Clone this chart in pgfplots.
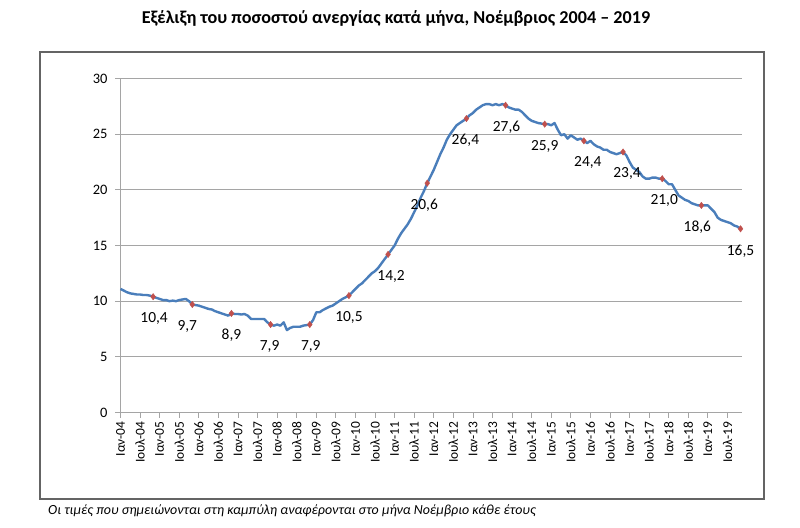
\documentclass[border=0pt]{standalone}
\usepackage{fontspec}
\setmainfont{Carlito}
\usepackage{pgfplots}
\pgfplotsset{compat=1.18}
\usepackage{pgfplotstable}
\definecolor{lineblue}{RGB}{74,126,187}
\definecolor{mred}{RGB}{192,80,77}
\definecolor{gridgray}{RGB}{165,165,165}
\definecolor{framegray}{RGB}{100,100,100}

\pgfplotstableread{
m y
0 11.1
1 10.95
2 10.8
3 10.7
4 10.65
5 10.6
6 10.6
7 10.55
8 10.55
9 10.5
10 10.4
11 10.3
12 10.2
13 10.1
14 10.1
15 10.0
16 10.05
17 10.0
18 10.1
19 10.15
20 10.2
21 10.0
22 9.7
23 9.65
24 9.6
25 9.5
26 9.4
27 9.3
28 9.25
29 9.1
30 9.0
31 8.9
32 8.8
33 8.7
34 8.9
35 8.85
36 8.85
37 8.8
38 8.85
39 8.7
40 8.4
41 8.4
42 8.4
43 8.4
44 8.4
45 8.1
46 7.9
47 7.8
48 7.9
49 7.8
50 8.1
51 7.4
52 7.6
53 7.7
54 7.7
55 7.7
56 7.8
57 7.85
58 7.9
59 8.3
60 9.0
61 9.0
62 9.2
63 9.35
64 9.5
65 9.6
66 9.8
67 10.0
68 10.2
69 10.35
70 10.5
71 10.8
72 11.1
73 11.4
74 11.6
75 11.9
76 12.2
77 12.5
78 12.7
79 13.0
80 13.4
81 13.8
82 14.2
83 14.6
84 15.0
85 15.6
86 16.1
87 16.5
88 16.9
89 17.4
90 18.0
91 18.6
92 19.3
93 19.9
94 20.6
95 21.2
96 21.8
97 22.5
98 23.2
99 23.8
100 24.5
101 25.0
102 25.4
103 25.8
104 26.0
105 26.2
106 26.4
107 26.7
108 26.9
109 27.2
110 27.4
111 27.6
112 27.7
113 27.7
114 27.6
115 27.7
116 27.6
117 27.7
118 27.6
119 27.4
120 27.3
121 27.2
122 27.2
123 27.0
124 26.7
125 26.4
126 26.2
127 26.1
128 26.0
129 25.95
130 25.9
131 25.9
132 25.8
133 26.0
134 25.4
135 24.9
136 25.0
137 24.6
138 24.9
139 24.7
140 24.5
141 24.6
142 24.4
143 24.2
144 24.4
145 24.1
146 23.9
147 23.8
148 23.6
149 23.6
150 23.4
151 23.3
152 23.2
153 23.3
154 23.4
155 23.1
156 22.5
157 22.0
158 21.8
159 21.6
160 21.2
161 21.0
162 21.0
163 21.1
164 21.1
165 21.0
166 21.0
167 20.8
168 20.5
169 20.5
170 20.0
171 19.5
172 19.3
173 19.1
174 19.0
175 18.8
176 18.7
177 18.6
178 18.6
179 18.6
180 18.6
181 18.3
182 18.0
183 17.5
184 17.3
185 17.2
186 17.1
187 17.0
188 16.8
189 16.7
190 16.5
}\ratedata

\pgfplotstableread{
m y lbl dx
10 10.4 10,4 1
22 9.7 9,7 -5
34 8.9 8,9 0
46 7.9 7,9 -1
58 7.9 7,9 1
70 10.5 10,5 0
82 14.2 14,2 3
94 20.6 20,6 -3
106 26.4 26,4 -1
118 27.6 27,6 1
130 25.9 25,9 0
142 24.4 24,4 4
154 23.4 23,4 4
166 21.0 21,0 2
178 18.6 18,6 -4
190 16.5 16,5 0
}\novdata

\begin{document}
\begin{tikzpicture}
\path[use as bounding box] (0,0) rectangle (800bp,528bp);
\draw[framegray, line width=1.6bp] (40bp,29bp) rectangle (764bp,476bp);
\node[font=\fontsize{18.2}{20}\selectfont\bfseries] at (396bp,510bp)
  {Εξέλιξη του ποσοστού ανεργίας κατά μήνα, Νοέμβριος 2004 – 2019};
\node[font=\fontsize{14}{16}\selectfont\itshape, anchor=west, inner sep=0pt] at (48bp,17bp)
  {Οι τιμές που σημειώνονται στη καμπύλη αναφέρονται στο μήνα Νοέμβριο κάθε έτους};
\begin{axis}[
  at={(120.5bp,115.5bp)}, anchor=south west,
  scale only axis, width=621bp, height=334bp,
  xmin=0, xmax=190.3, ymin=0, ymax=30,
  axis x line*=bottom, axis y line*=left,
  axis line style={-, draw=gridgray, line width=0.9bp},
  ytick={0,5,...,30},
  ymajorgrids, grid style={gridgray, line width=0.8bp},
  xtick={0,6,...,186},
  xticklabels={Ιαν-04,Ιουλ-04,Ιαν-05,Ιουλ-05,Ιαν-06,Ιουλ-06,Ιαν-07,Ιουλ-07,Ιαν-08,Ιουλ-08,Ιαν-09,Ιουλ-09,Ιαν-10,Ιουλ-10,Ιαν-11,Ιουλ-11,Ιαν-12,Ιουλ-12,Ιαν-13,Ιουλ-13,Ιαν-14,Ιουλ-14,Ιαν-15,Ιουλ-15,Ιαν-16,Ιουλ-16,Ιαν-17,Ιουλ-17,Ιαν-18,Ιουλ-18,Ιαν-19,Ιουλ-19},
  x tick label style={rotate=90, anchor=east, font=\fontsize{13.5}{15}\selectfont},
  y tick label style={font=\fontsize{14.5}{16}\selectfont, xshift=-4bp},
  tick align=outside, major tick length=5.5bp,
  tick style={gridgray, line width=0.8bp},
  /pgf/number format/assume math mode=true,
  clip=false,
]
\addplot[lineblue, line width=2.4bp, line join=round, no marks] table[x=m, y=y] {\ratedata};
\addplot[only marks, mark=diamond*, mark size=3.2bp, mark options={fill=mred, draw=mred},
  point meta=explicit symbolic,
  visualization depends on={\thisrow{dx} \as \dx},
  nodes near coords,
  every node near coord/.append style={anchor=center, inner sep=0pt, yshift=-22bp, xshift=\dx bp,
    font=\fontsize{15.5}{17}\selectfont, text=black},
] table[x=m, y=y, meta=lbl] {\novdata};
\end{axis}
\end{tikzpicture}
\end{document}
